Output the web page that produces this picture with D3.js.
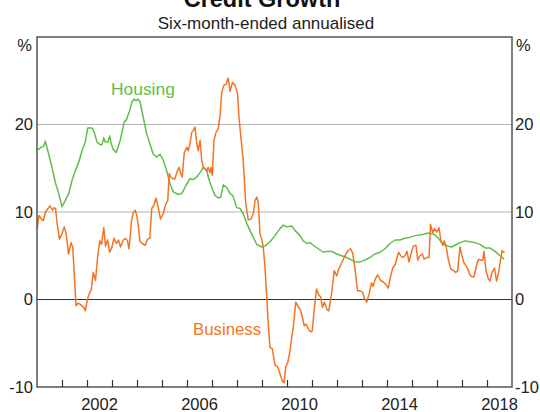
<!DOCTYPE html>
<html><head><meta charset="utf-8">
<script src="https://cdn.jsdelivr.net/npm/d3@7"></script>
<style>body{margin:0;background:#fff;} svg{display:block;font-family:Arial,"Liberation Sans",sans-serif;}</style>
</head><body>
<svg id="c" width="540" height="412"></svg>
<script>
const title = "Credit Growth";
const subtitle = "Six-month-ended annualised";
const yTicks = [-10, 0, 10, 20];
const xLabelYears = [2002, 2006, 2010, 2014, 2018];
const xTickYears = d3.range(2001, 2019);

const housingYears = [2000.04,2000.16,2000.27,2000.33,2000.47,2000.60,2000.73,2000.87,2001.00,2001.13,2001.27,2001.40,2001.53,2001.67,2001.80,2001.93,2002.03,2002.20,2002.29,2002.40,2002.53,2002.60,2002.67,2002.73,2002.83,2002.91,2002.96,2003.04,2003.17,2003.33,2003.49,2003.57,2003.71,2003.80,2003.88,2003.96,2004.04,2004.12,2004.25,2004.39,2004.65,2004.79,2004.92,2005.05,2005.19,2005.32,2005.45,2005.65,2005.79,2005.99,2006.12,2006.25,2006.39,2006.52,2006.65,2006.79,2006.85,2006.99,2007.12,2007.25,2007.35,2007.45,2007.59,2007.72,2007.83,2007.99,2008.12,2008.25,2008.39,2008.52,2008.65,2008.79,2008.99,2009.12,2009.32,2009.52,2009.72,2009.85,2009.99,2010.19,2010.32,2010.52,2010.65,2010.79,2010.92,2011.05,2011.25,2011.45,2011.59,2011.79,2011.99,2012.19,2012.39,2012.59,2012.72,2012.92,2013.12,2013.32,2013.52,2013.72,2013.92,2014.12,2014.32,2014.52,2014.72,2014.92,2015.12,2015.39,2015.65,2015.79,2015.92,2016.05,2016.19,2016.32,2016.45,2016.59,2016.72,2016.92,2017.12,2017.32,2017.52,2017.72,2017.92,2018.12,2018.32,2018.52,2018.69];
const housingValues = [17.1,17.4,17.5,18.1,16.6,15.1,13.4,12.1,10.6,11.3,12.1,13.6,14.7,15.7,17.0,18.0,19.6,19.6,19.1,18.0,17.7,17.7,18.5,18.0,18.0,18.7,17.9,17.2,16.8,18.2,20.3,20.5,21.6,22.6,22.9,22.7,22.9,22.6,20.8,18.9,16.6,16.3,16.6,15.9,14.7,13.2,12.3,12.0,12.1,13.2,13.8,13.7,14.0,14.5,15.1,14.8,14.0,12.8,11.9,11.6,11.7,13.1,12.8,12.1,11.9,10.5,10.4,9.8,8.7,7.9,7.1,6.3,6.0,6.1,6.6,7.3,8.1,8.5,8.3,8.4,7.9,7.3,6.7,6.4,6.5,6.2,5.8,5.4,5.5,5.5,5.2,5.0,4.8,4.5,4.3,4.3,4.5,4.8,5.2,5.4,5.8,6.4,6.8,6.8,7.0,7.1,7.3,7.4,7.6,7.5,7.4,7.0,6.5,6.2,6.1,6.0,6.2,6.5,6.7,6.6,6.5,6.3,5.9,5.9,5.5,5.0,4.6];

const businessYears = [2000.01,2000.08,2000.18,2000.25,2000.34,2000.44,2000.52,2000.62,2000.68,2000.74,2000.80,2000.90,2001.00,2001.09,2001.17,2001.26,2001.36,2001.43,2001.49,2001.56,2001.66,2001.79,2001.87,2001.93,2002.01,2002.08,2002.17,2002.25,2002.34,2002.43,2002.51,2002.58,2002.67,2002.74,2002.82,2002.91,2002.99,2003.08,2003.18,2003.26,2003.34,2003.45,2003.54,2003.62,2003.68,2003.78,2003.86,2003.93,2003.99,2004.06,2004.12,2004.22,2004.33,2004.42,2004.51,2004.59,2004.68,2004.76,2004.85,2004.94,2005.05,2005.15,2005.23,2005.29,2005.35,2005.43,2005.52,2005.59,2005.68,2005.75,2005.81,2005.89,2005.99,2006.05,2006.12,2006.19,2006.25,2006.32,2006.39,2006.45,2006.52,2006.59,2006.65,2006.72,2006.79,2006.85,2006.92,2006.96,2007.01,2007.08,2007.16,2007.25,2007.32,2007.39,2007.48,2007.56,2007.65,2007.72,2007.82,2007.92,2008.02,2008.08,2008.16,2008.25,2008.35,2008.45,2008.56,2008.65,2008.72,2008.79,2008.85,2008.92,2008.99,2009.05,2009.12,2009.19,2009.25,2009.32,2009.41,2009.52,2009.63,2009.72,2009.81,2009.88,2009.95,2010.03,2010.12,2010.19,2010.25,2010.35,2010.44,2010.54,2010.61,2010.69,2010.76,2010.84,2010.94,2011.01,2011.09,2011.18,2011.27,2011.35,2011.42,2011.50,2011.59,2011.67,2011.79,2011.89,2011.99,2012.08,2012.19,2012.32,2012.45,2012.54,2012.63,2012.72,2012.82,2012.93,2013.03,2013.10,2013.19,2013.29,2013.38,2013.44,2013.54,2013.63,2013.74,2013.85,2013.96,2014.05,2014.14,2014.23,2014.33,2014.40,2014.46,2014.55,2014.63,2014.72,2014.80,2014.88,2014.96,2015.05,2015.16,2015.23,2015.32,2015.41,2015.49,2015.59,2015.68,2015.74,2015.83,2015.90,2015.99,2016.08,2016.15,2016.23,2016.29,2016.37,2016.45,2016.55,2016.66,2016.75,2016.83,2016.92,2016.99,2017.06,2017.15,2017.23,2017.32,2017.39,2017.48,2017.57,2017.66,2017.75,2017.83,2017.88,2017.96,2018.05,2018.12,2018.20,2018.30,2018.38,2018.46,2018.54,2018.60,2018.66,2018.71];
const businessValues = [8.1,9.6,9.2,9.0,10.0,10.4,10.7,10.2,10.5,10.4,8.8,6.9,7.5,8.3,7.5,5.2,6.5,6.0,2.9,-0.7,-0.4,-0.7,-0.9,-1.3,-0.1,0.6,1.1,3.1,2.2,5.0,6.7,6.3,8.2,6.1,6.8,5.4,5.9,7.0,6.4,6.8,6.0,6.8,7.0,6.7,5.8,9.0,10.0,10.2,9.6,8.3,6.6,6.4,6.2,6.9,7.0,10.4,10.8,11.6,10.5,9.2,9.8,10.9,11.3,14.4,14.0,13.8,13.8,14.5,15.1,14.4,14.0,16.8,17.4,17.0,17.8,19.1,19.3,19.7,17.8,17.0,18.2,15.9,15.1,14.9,14.7,15.1,14.5,15.1,14.2,18.2,19.1,19.5,21.0,23.7,24.5,24.6,25.3,23.8,24.8,24.5,23.6,20.8,18.4,15.8,11.0,9.1,9.2,9.8,11.3,11.7,11.1,7.5,6.9,6.0,3.7,0.3,-2.8,-5.5,-5.6,-7.5,-7.7,-8.5,-9.3,-9.5,-7.7,-7.2,-5.9,-4.3,-3.2,-0.3,-0.8,-1.2,-2.0,-3.0,-2.8,-3.3,-3.7,-3.6,-1.1,1.2,0.5,0.3,-0.9,-0.3,-1.1,-1.3,0.8,3.3,2.7,3.6,4.2,5.0,5.6,5.8,5.3,3.5,1.0,1.0,0.8,0.1,-0.3,0.7,1.9,1.5,2.4,2.8,2.2,2.0,1.7,1.3,2.6,3.6,4.0,4.8,5.4,5.0,4.8,5.0,5.5,4.3,5.2,6.1,6.2,4.5,5.0,5.2,4.6,4.8,4.8,8.6,7.6,8.1,7.7,8.2,6.8,6.2,6.7,6.0,4.6,3.5,3.3,3.1,3.3,6.0,5.1,4.3,3.9,3.5,2.8,2.6,2.6,3.8,4.6,4.5,4.5,5.5,3.3,2.4,2.1,3.1,3.6,2.1,3.0,4.5,5.6,5.4,5.4];

const housingColor = "#5fbd4c";
const businessColor = "#f47321";

const svg = d3.select("#c");
const m = {left: 37, right: 512, top: 37, bottom: 387};
const x = d3.scaleLinear().domain([2000, 2019]).range([m.left, m.right]);
const y = d3.scaleLinear().domain([-10, 30]).range([m.bottom, m.top]);

// gridlines
svg.append("g").selectAll("line").data([10, 20]).join("line")
  .attr("x1", m.left).attr("x2", m.right)
  .attr("y1", d => y(d)).attr("y2", d => y(d))
  .attr("stroke", "#b4b4b4").attr("stroke-width", 1);

// lines
const line = d3.line().x(d => x(d[0])).y(d => y(d[1]));
svg.append("path").datum(d3.zip(housingYears, housingValues))
  .attr("d", line).attr("fill", "none").attr("stroke", housingColor).attr("stroke-width", 1.5).attr("stroke-linejoin", "round");
// zero line
svg.append("line").attr("x1", m.left).attr("x2", m.right).attr("y1", y(0)).attr("y2", y(0))
  .attr("stroke", "#333").attr("stroke-width", 1.2);
svg.append("path").datum(d3.zip(businessYears, businessValues))
  .attr("d", line).attr("fill", "none").attr("stroke", businessColor).attr("stroke-width", 1.5).attr("stroke-linejoin", "round");

// frame
svg.append("rect").attr("x", m.left).attr("y", m.top).attr("width", m.right - m.left).attr("height", m.bottom - m.top)
  .attr("fill", "none").attr("stroke", "#555").attr("stroke-width", 1.5);

// x ticks
const xAxis = d3.axisBottom(x).tickValues(xTickYears).tickSize(-7).tickFormat("");
const gx = svg.append("g").attr("transform", `translate(0,${m.bottom})`).call(xAxis);
gx.select(".domain").remove();
gx.selectAll("line").attr("stroke", "#333").attr("stroke-width", 1.2);

svg.append("g").selectAll("text").data(xLabelYears).join("text")
  .attr("x", d => x(d + 0.5)).attr("y", 410).attr("text-anchor", "middle")
  .attr("font-size", 16.5).attr("fill", "#222").text(d => d);

// y axes
const fmt = d => String(d);
const yl = d3.axisLeft(y).tickValues(yTicks).tickSize(0).tickPadding(4).tickFormat(fmt);
const gyl = svg.append("g").attr("transform", `translate(${m.left},0)`).call(yl);
const yr = d3.axisRight(y).tickValues(yTicks).tickSize(0).tickPadding(3).tickFormat(fmt);
const gyr = svg.append("g").attr("transform", `translate(${m.right},0)`).call(yr);
[gyl, gyr].forEach(g => {
  g.select(".domain").remove();
  g.selectAll("text").attr("font-size", 16.5).attr("fill", "#222").attr("font-family", "Arial, 'Liberation Sans', sans-serif");
});

svg.append("text").attr("x", 32).attr("y", 51).attr("text-anchor", "end").attr("font-size", 16.5).attr("fill", "#222").text("%");
svg.append("text").attr("x", 516).attr("y", 51).attr("font-size", 16.5).attr("fill", "#222").text("%");

// titles
svg.append("text").attr("x", 262).attr("y", 7).attr("text-anchor", "middle").attr("font-size", 23.5).attr("font-weight", "bold").attr("fill", "#111").text(title);
svg.append("text").attr("x", 266).attr("y", 29).attr("text-anchor", "middle").attr("font-size", 17).attr("fill", "#222").text(subtitle);

// series labels
svg.append("text").attr("x", 111).attr("y", 95).attr("font-size", 17.4).attr("fill", housingColor).text("Housing");
svg.append("text").attr("x", 193).attr("y", 335).attr("font-size", 16.8).attr("fill", businessColor).text("Business");
</script>
</body></html>
